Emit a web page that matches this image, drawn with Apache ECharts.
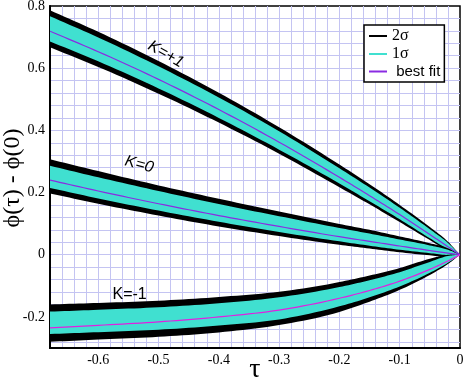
<!DOCTYPE html>
<html>
<head>
<meta charset="utf-8">
<script src="https://cdn.jsdelivr.net/npm/echarts@6/dist/echarts.min.js"></script>
<style>
html,body{margin:0;padding:0;background:#fff;}
#c{width:463px;height:382px;}
</style>
</head>
<body>
<div id="c"></div>
<script>
// tau values
const taus = [-0.68, -0.6, -0.5, -0.4, -0.3, -0.2, -0.15, -0.1, -0.05, -0.02, 0];

// K = +1
const kp1Fit = [0.719, 0.653, 0.564, 0.467, 0.362, 0.249, 0.190, 0.129, 0.065, 0.026, 0];
const kp1Up2 = [0.786, 0.717, 0.623, 0.521, 0.410, 0.290, 0.227, 0.160, 0.089, 0.042, 0];
const kp1Up1 = [0.767, 0.699, 0.606, 0.506, 0.397, 0.278, 0.216, 0.151, 0.082, 0.038, 0];
const kp1Lo1 = [0.686, 0.622, 0.535, 0.440, 0.338, 0.229, 0.172, 0.114, 0.053, 0.018, 0];
const kp1Lo2 = [0.667, 0.604, 0.518, 0.425, 0.325, 0.217, 0.162, 0.105, 0.047, 0.013, 0];

// K = 0
const k0Fit = [0.240, 0.205, 0.164, 0.126, 0.091, 0.058, 0.043, 0.028, 0.0135, 0.005, 0];
const k0Up2 = [0.307, 0.269, 0.223, 0.180, 0.139, 0.099, 0.080, 0.059, 0.037, 0.021, 0];
const k0Up1 = [0.286, 0.249, 0.205, 0.163, 0.124, 0.086, 0.068, 0.049, 0.030, 0.016, 0];
const k0Lo1 = [0.215, 0.181, 0.142, 0.106, 0.073, 0.043, 0.029, 0.016, 0.005, -0.001, 0];
const k0Lo2 = [0.197, 0.164, 0.126, 0.091, 0.060, 0.032, 0.020, 0.008, -0.002, -0.006, 0];

// K = -1
const km1Fit = [-0.235, -0.227, -0.216, -0.200, -0.178, -0.140, -0.115, -0.085, -0.047, -0.020, 0];
const km1Up2 = [-0.160, -0.155, -0.148, -0.136, -0.119, -0.088, -0.067, -0.043, -0.013, 0.000, 0];
const km1Up1 = [-0.183, -0.177, -0.169, -0.156, -0.137, -0.104, -0.082, -0.056, -0.023, -0.004, 0];
const km1Lo1 = [-0.255, -0.249, -0.241, -0.228, -0.208, -0.166, -0.137, -0.102, -0.058, -0.026, 0];
const km1Lo2 = [-0.280, -0.273, -0.264, -0.250, -0.226, -0.184, -0.151, -0.113, -0.065, -0.030, 0];

// axis ticks / labels
const xLabelValues = [-0.6, -0.5, -0.4, -0.3, -0.2, -0.1, 0];
const xGridValues = [-0.66,-0.64,-0.62,-0.6,-0.58,-0.56,-0.54,-0.52,-0.5,-0.48,-0.46,-0.44,-0.42,-0.4,-0.38,-0.36,-0.34,-0.32,-0.3,-0.28,-0.26,-0.24,-0.22,-0.2,-0.18,-0.16,-0.14,-0.12,-0.1,-0.08,-0.06,-0.04,-0.02];
const yLabelValues = [-0.2, 0, 0.2, 0.4, 0.6, 0.8];
const yGridValues = [-0.28,-0.24,-0.2,-0.16,-0.12,-0.08,-0.04,0,0.04,0.08,0.12,0.16,0.2,0.24,0.28,0.32,0.36,0.4,0.44,0.48,0.52,0.56,0.6,0.64,0.68,0.72,0.76];
const yTitle = 'ϕ(τ) - ϕ(0)';
const xTitle = 'τ';

// curve annotations [text, tau, value, rotationDeg (clockwise), italic]
const annotations = [
  ['K=+1', -0.488, 0.645, 30, true],
  ['K=0', -0.532, 0.290, 15, true],
  ['K=-1', -0.548, -0.129, 0, false]
];

const C2 = '#000000';
const C1 = '#40e0d0';
const CFIT = '#8a2be2';
const CFITM = '#e020e0';

// smooth (cubic Hermite) sampling of pixel points for drawing
function smoothPts(p) {
  const n = p.length, m = [];
  for (let i = 0; i < n; i++) {
    if (i === 0) m.push((p[1][1] - p[0][1]) / (p[1][0] - p[0][0]));
    else if (i === n - 1) m.push((p[n - 1][1] - p[n - 2][1]) / (p[n - 1][0] - p[n - 2][0]));
    else {
      const h0 = p[i][0] - p[i - 1][0], h1 = p[i + 1][0] - p[i][0];
      const s0 = (p[i][1] - p[i - 1][1]) / h0, s1 = (p[i + 1][1] - p[i][1]) / h1;
      m.push((s0 * h1 + s1 * h0) / (h0 + h1));
    }
  }
  const out = [p[0]];
  for (let i = 0; i < n - 1; i++) {
    const h = p[i + 1][0] - p[i][0];
    if (Math.abs(h) < 1e-9) { out.push(p[i + 1]); continue; }
    const steps = 10;
    for (let k = 1; k <= steps; k++) {
      const t = k / steps, t2 = t * t, t3 = t2 * t;
      const h00 = 2 * t3 - 3 * t2 + 1, h10 = t3 - 2 * t2 + t, h01 = -2 * t3 + 3 * t2, h11 = t3 - t2;
      out.push([p[i][0] + h * t, h00 * p[i][1] + h10 * h * m[i] + h01 * p[i + 1][1] + h11 * h * m[i + 1]]);
    }
  }
  return out;
}

function band(name, lower, upper, color) {
  const data = taus.map((t, i) => [t, lower[i], upper[i]]);
  return {
    type: 'custom', name: name, data: data, clip: true, silent: true,
    encode: { x: 0, y: [1, 2] },
    itemStyle: { color: color },
    renderItem: function (params, api) {
      if (params.dataIndex !== 0) return null;
      const up = data.map(d => api.coord([d[0], d[2]]));
      const lo = data.map(d => api.coord([d[0], d[1]]));
      const pts = smoothPts(up).concat(smoothPts(lo).reverse());
      return { type: 'polygon', shape: { points: pts }, style: { fill: color } };
    }
  };
}
function fitLine(name, fit, color) {
  const data = taus.map((t, i) => [t, fit[i]]);
  return {
    type: 'custom', name: name, data: data, clip: true, silent: true, z: 5,
    encode: { x: 0, y: 1 },
    itemStyle: { color: color },
    renderItem: function (params, api) {
      if (params.dataIndex !== 0) return null;
      const pts = smoothPts(data.map(d => api.coord(d)));
      return { type: 'polyline', shape: { points: pts }, style: { stroke: color, lineWidth: 1.2, fill: null } };
    }
  };
}
function legendDummy(name, color, width) {
  return { type: 'line', name: name, data: [], symbol: 'none', showSymbol: false, itemStyle: { color: color }, lineStyle: { color: color, width: width } };
}

const chart = echarts.init(document.getElementById('c'), null, { renderer: 'canvas' });
const serif = 'Liberation Serif';
chart.setOption({
  animation: false,
  backgroundColor: '#fff',
  grid: { left: 50, right: 3, top: 6, bottom: 34, show: true, borderColor: '#000', borderWidth: 1.5, containLabel: false, outerBoundsMode: 'none' },
  legend: {
    orient: 'vertical', left: 364, top: 25,
    backgroundColor: '#fff', borderColor: '#000', borderWidth: 1.5,
    padding: [3, 4, 3, 4], itemGap: 2, itemWidth: 18, itemHeight: 14,
    itemStyle: { opacity: 0 },
    data: [
      { name: '2σ', textStyle: { fontFamily: serif, fontSize: 16, color: '#000' } },
      { name: '1σ', textStyle: { fontFamily: serif, fontSize: 16, color: '#000' } },
      { name: 'best fit', textStyle: { fontFamily: 'Liberation Sans', fontSize: 15, color: '#000' } }
    ],
    formatter: function (n) { return n === 'best fit' ? ' best fit' : n; },
    selectedMode: false
  },
  xAxis: {
    type: 'value', min: -0.68, max: 0,
    name: xTitle, nameLocation: 'middle', nameGap: 8, nameMoveOverlap: false,
    nameTextStyle: { fontFamily: serif, fontSize: 28, color: '#000', verticalAlign: 'top' },
    axisLine: { show: true, onZero: false, lineStyle: { color: '#000', width: 2 } },
    axisTick: { show: false, customValues: xGridValues },
    axisLabel: { customValues: xLabelValues, fontFamily: serif, fontSize: 14, color: '#000', margin: 5,
      formatter: v => (Math.abs(v) < 1e-9 ? '0' : String(v)) },
    splitLine: { show: true, lineStyle: { color: '#c4c4f2', width: 1 } }
  },
  yAxis: {
    type: 'value', min: -0.3, max: 0.8,
    axisLine: { show: true, onZero: false, lineStyle: { color: '#000', width: 2 } },
    axisTick: { show: false, customValues: yGridValues },
    axisLabel: { customValues: yLabelValues, fontFamily: serif, fontSize: 14, color: '#000', margin: 5,
      formatter: v => (Math.abs(v) < 1e-9 ? '0' : String(v)) },
    splitLine: { show: true, lineStyle: { color: '#c4c4f2', width: 1 } }
  },
  series: [
    legendDummy('2σ', C2, 3.5),
    legendDummy('1σ', C1, 3.5),
    legendDummy('best fit', CFIT, 1.2),
    band('2σ K=+1', kp1Lo2, kp1Up2, C2),
    band('1σ K=+1', kp1Lo1, kp1Up1, C1),
    fitLine('fit K=+1', kp1Fit, CFIT),
    band('2σ K=0', k0Lo2, k0Up2, C2),
    band('1σ K=0', k0Lo1, k0Up1, C1),
    fitLine('fit K=0', k0Fit, CFIT),
    band('2σ K=-1', km1Lo2, km1Up2, C2),
    band('1σ K=-1', km1Lo1, km1Up1, C1),
    fitLine('fit K=-1', km1Fit, CFITM)
  ]
});

const graphics = annotations.map(a => {
  const p = chart.convertToPixel({ xAxisIndex: 0, yAxisIndex: 0 }, [a[1], a[2]]);
  return {
    type: 'text', x: p[0], y: p[1], rotation: -a[3] * Math.PI / 180,
    style: { text: a[0], fill: '#000', font: (a[4] ? 'italic ' : '') + '16px "Liberation Sans"', align: 'center', verticalAlign: 'middle' },
    z: 10
  };
});
graphics.push({
  type: 'text', x: 13, y: 178, rotation: Math.PI / 2,
  style: { text: yTitle, fill: '#000', font: '24px "Liberation Serif"', align: 'center', verticalAlign: 'middle' },
  z: 10
});
chart.setOption({ graphic: graphics });
</script>
</body>
</html>
